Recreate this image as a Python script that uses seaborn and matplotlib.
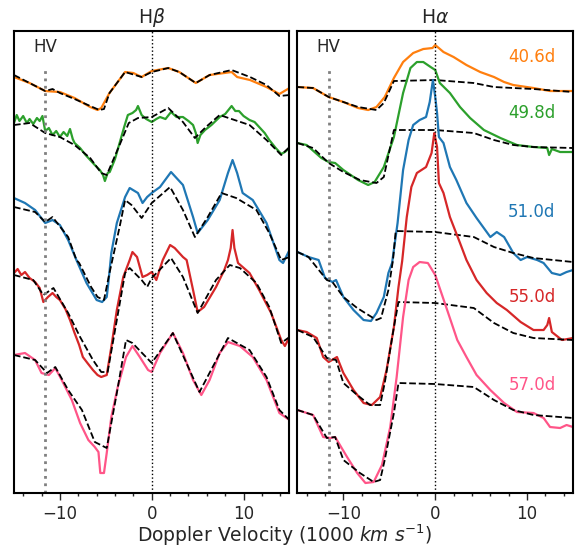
import matplotlib
matplotlib.use("Agg")
import matplotlib.pyplot as plt
import seaborn as sns

# velocities in 1000 km/s, flux in arbitrary (offset) units

epochs = ['40.6d', '49.8d', '51.0d', '55.0d', '57.0d']
colors = ['#ff7f0e', '#2ca02c', '#1f77b4', '#d62728', '#ff5588']
hv_vel = -11.6

# ---------------- H-beta ----------------
hb_v_406 = [-15, -13.3, -11.6, -10, -8.4, -6.7, -5.9, -5.5, -4.6, -2.9, -2.0, -1.1, 0, 1.8, 3.0, 4.8, 6.3, 8.7, 9.3,
            10.7, 12.5, 13.9, 15]
hb_f_406 = [416, 410, 402, 401, 395, 386, 383, 385, 400, 421, 420, 416, 422, 425, 421, 410, 418, 421, 416,
            413, 406, 399, 405]
hb_mv_406 = [-15, -13.3, -11.6, -10.8, -10, -8.4, -6.7, -5.7, -5.2, -4.6, -2.9, -1.1, 0, 1.8, 3.0, 4.8, 6.3, 8.7,
             10.7, 12.5, 13.9, 15]
hb_mf_406 = [418, 410, 402, 404, 400, 394, 387, 383, 384, 400, 421, 416, 421, 425, 421, 410, 418, 423,
             416, 408, 397, 398]

hb_v_498 = [-15, -14.7, -14.4, -14.0, -13.6, -13.3, -12.9, -12.5, -12.2, -11.9, -11.6, -11.2, -10.8, -10.4, -10,
            -9.6, -9.2, -8.9, -8.6, -8.4, -7.8, -7.2, -6.7, -6.2, -5.65, -5.3, -5.1, -4.8, -4.57, -4.0, -3.5, -3.0,
            -2.6, -2.1, -1.7, -1.5, -1.1, -0.6, 0, 0.5, 0.9, 1.5, 2.1, 2.7, 3.4, 4.0, 4.5, 4.8, 5.0, 5.3, 5.8, 6.5,
            7.4, 8.0, 8.7, 9.1, 9.5, 10.0, 10.65, 11.2, 11.7, 12.3, 12.8, 13.5, 14.1, 14.5, 15]
hb_f_498 = [370, 378, 372, 377, 370, 374, 369, 375, 372, 377, 362, 365, 358, 362, 356,
            361, 357, 364, 354, 350, 345, 338, 333, 328, 323, 318, 312, 320, 321, 334, 350, 366,
            378, 380, 383, 387, 378, 374, 371, 374, 376, 374, 381, 376, 376, 372, 368, 360, 350, 358, 363, 368,
            376, 379, 387, 382, 382, 377, 373, 371, 366, 360, 353, 345, 339, 341, 345]
hb_mv_498 = [-15, -13.3, -11.6, -10, -8.4, -6.7, -5.5, -4.9, -3.5, -2.5, -1.5, 0, 1.8, 3.4, 4.7, 5.9, 7.4, 10.65,
             12.5, 14.1, 15]
hb_mf_498 = [368, 370, 360, 356, 348, 335, 320, 318, 348, 370, 375, 376, 385, 371, 355, 366, 378, 368,
             353, 338, 346]

hb_v_510 = [-15, -13.8, -12.7, -11.6, -10.8, -10, -9.1, -8.2, -7.1, -6.0, -5.4, -4.9, -4.7, -4.4, -3.8, -2.9, -2.4,
            -1.5, -1.0, -0.5, 0, 0.9, 2.1, 3.4, 4.5, 5.0, 6.1, 7.4, 8.3, 8.8, 9.3, 9.9, 11.0, 12.5, 13.9, 14.3, 15]
hb_f_510 = [295, 290, 283, 270, 273, 268, 253, 233, 210, 193, 191, 196, 212, 240, 270, 296, 305,
            300, 290, 296, 300, 306, 321, 308, 276, 260, 273, 293, 320, 333, 320, 300, 293, 270, 233, 230, 243]
hb_mv_510 = [-15, -12.7, -11.6, -10.8, -9.1, -8.2, -7.9, -6.6, -5.9, -5.2, -4.6, -3.5, -2.9, -2.2, -1.1, 0, 2.0,
             3.4, 4.7, 6.1, 7.6, 9.2, 11.4, 12.8, 14.1, 15]
hb_mf_510 = [286, 281, 271, 276, 256, 233, 230, 206, 196, 193, 220, 266, 293, 288, 275, 290, 306,
             283, 256, 276, 300, 295, 283, 260, 233, 236]

hb_v_550 = [-15, -14.6, -14.2, -13.8, -13.3, -12.7, -12.2, -11.8, -11.3, -10.8, -10.4, -10, -9.4, -8.9, -8.4, -7.9,
            -7.5, -7.0, -6.4, -5.9, -5.5, -4.9, -4.4, -3.8, -3.1, -2.4, -2.1, -1.6, -1.0, -0.5, 0, 0.5, 1.2, 2.0,
            2.5, 3.4, 3.8, 4.5, 5.0, 5.7, 7.0, 7.9, 8.3, 8.6, 8.8, 9.0, 9.4, 10.65, 11.7, 13.0, 14.1, 14.5, 15]
hb_f_550 = [220, 224, 218, 221, 215, 211, 205, 191, 196, 200, 196, 193, 184, 173, 160, 148,
            136, 130, 123, 118, 116, 118, 146, 183, 216, 233, 241, 236, 216, 218, 221, 213, 233, 248,
            245, 236, 233, 203, 181, 186, 206, 223, 233, 245, 263, 245, 230, 220, 203, 180, 153, 147, 156]
hb_mv_550 = [-15, -12.9, -11.8, -10.7, -9.1, -7.8, -6.4, -5.5, -4.8, -3.8, -2.9, -2.4, -1.1, -0.5, 0, 2.1, 3.4,
             5.0, 7.0, 8.5, 9.6, 11.4, 12.8, 14.1, 15]
hb_mf_550 = [218, 213, 198, 205, 180, 156, 133, 121, 121, 173, 220, 225, 213, 206, 215, 235, 216,
             180, 213, 228, 225, 210, 186, 150, 156]

hb_v_570 = [-15, -13.8, -12.7, -12.0, -11.2, -10.5, -9.8, -8.7, -7.8, -6.9, -6.2, -5.8, -5.6, -5.2, -4.9, -4.4,
            -3.7, -2.8, -2.1, -1.3, -0.4, 0, 0.9, 2.3, 3.4, 4.5, 5.4, 6.3, 7.4, 8.3, 9.6, 11.0, 12.5, 13.9, 15]
hb_f_570 = [138, 140, 133, 120, 118, 125, 113, 93, 70, 53, 46, 41, 20, 20, 40, 76,
            106, 136, 147, 136, 123, 121, 140, 160, 140, 113, 98, 113, 140, 151, 147, 136, 113, 80, 73]
hb_mv_570 = [-15, -12.7, -11.4, -10.5, -9.1, -7.6, -6.2, -4.9, -3.8, -2.8, -2.1, 0, 2.3, 5.2, 8.3, 10.65, 12.5,
             13.9, 15]
hb_mf_570 = [138, 133, 120, 126, 103, 83, 51, 45, 100, 153, 150, 130, 160, 101, 155, 143, 116,
             83, 73]

# ---------------- H-alpha ----------------
ha_v_406 = [-15, -13.3, -11.6, -10, -8.4, -7.3, -6.4, -5.5, -4.5, -3.5, -2.4, -1.3, -0.3, 0, 0.9, 2.0, 3.4, 4.9,
            6.4, 7.5, 8.5, 10.7, 12.5, 13.6, 15]
ha_f_406 = [406, 405, 396, 391, 385, 383, 386, 396, 415, 431, 440, 444, 445, 448, 441, 436, 428, 421,
            416, 411, 408, 405, 402, 402, 402]
ha_mv_406 = [-15, -13.3, -11.6, -8.4, -6.4, -5.6, -4.5, 0, 4.2, 6.4, 8.5, 10.7, 15]
ha_mf_406 = [406, 405, 396, 386, 383, 390, 412, 413, 410, 406, 405, 404, 401]

ha_v_498 = [-15, -14.0, -12.4, -11.6, -10.9, -10, -8.4, -7.3, -6.6, -5.6, -4.5, -3.5, -2.7, -2.0, -1.3, -0.5, 0,
            0.5, 1.6, 2.7, 3.8, 5.3, 7.1, 8.9, 10.7, 12.2, 12.4, 12.7, 13.6, 15]
ha_f_498 = [350, 348, 335, 331, 330, 323, 313, 308, 311, 326, 356, 400, 425, 431, 431, 426, 423,
            410, 400, 386, 375, 363, 355, 348, 346, 345, 338, 344, 341, 341]
ha_mv_498 = [-15, -13.3, -11.6, -10, -8.2, -6.4, -5.6, -4.5, 0, 4.2, 6.4, 8.5, 10.7, 15]
ha_mf_498 = [350, 345, 330, 321, 313, 310, 316, 363, 363, 360, 353, 348, 346, 345]

ha_v_510 = [-15, -13.8, -12.7, -12.0, -11.2, -10.8, -10, -8.9, -7.8, -7.0, -6.4, -5.6, -5.1, -4.7, -4.1, -3.5,
            -2.9, -2.4, -1.7, -1.0, -0.6, -0.25, 0, 0.2, 0.4, 0.9, 1.6, 2.3, 3.4, 4.5, 6.0, 6.7, 7.5, 8.5, 9.3,
            10.0, 11.1, 11.8, 12.7, 13.6, 14.3, 15]
ha_f_510 = [241, 236, 233, 215, 211, 213, 196, 183, 173, 172, 180, 196, 220, 230, 270, 323,
            353, 368, 373, 376, 391, 413, 396, 380, 356, 350, 326, 313, 290, 275, 256, 261, 256, 240, 233,
            236, 233, 230, 220, 218, 221, 223]
ha_mv_510 = [-15, -13.8, -12.5, -11.8, -11.2, -10, -8.5, -6.4, -5.9, -5.1, -4.6, -4.3, 0, 4.2, 6.4, 8.5, 10.7, 15]
ha_mf_510 = [241, 236, 221, 213, 211, 196, 185, 173, 175, 203, 233, 262, 261, 256, 246, 240, 235, 231]

ha_v_550 = [-15, -14.0, -12.9, -12.2, -11.6, -10.7, -10, -8.9, -7.8, -6.9, -6.0, -5.3, -4.5, -4.0, -3.6, -3.1,
            -2.6, -2.0, -1.5, -1.0, -0.4, -0.1, 0, 0.2, 0.4, 0.9, 1.6, 2.7, 3.4, 4.5, 5.6, 6.7, 7.8, 9.3, 10.7,
            11.8, 12.2, 12.4, 12.7, 13.8, 15]
ha_f_550 = [163, 161, 155, 136, 131, 136, 120, 103, 90, 88, 96, 123, 166, 206, 232, 276,
            306, 320, 323, 326, 340, 360, 355, 346, 310, 300, 276, 250, 233, 213, 200, 190, 183, 171, 163,
            163, 168, 175, 161, 153, 155]
ha_mv_550 = [-15, -13.3, -11.8, -10.8, -10, -8.5, -7.1, -6.0, -5.5, -4.5, -4.0, 0, 4.2, 6.4, 8.5, 10.7, 15]
ha_mf_550 = [163, 156, 135, 133, 110, 98, 88, 88, 110, 166, 191, 190, 185, 170, 160, 155, 153]

ha_v_570 = [-15, -13.3, -12.2, -11.4, -10.9, -9.6, -8.5, -7.6, -6.7, -5.8, -4.9, -4.2, -3.5, -2.9, -2.4, -1.7,
            -0.8, 0, 1.3, 2.4, 3.4, 4.5, 6.0, 7.5, 8.9, 10.7, 11.8, 12.5, 13.6, 14.3, 15]
ha_f_570 = [83, 78, 56, 55, 56, 36, 20, 10, 11, 28, 66, 116, 176, 213, 226, 231,
            230, 218, 183, 153, 136, 118, 103, 90, 81, 80, 75, 66, 65, 68, 66]
ha_mv_570 = [-15, -13.3, -11.8, -10.9, -10, -8.2, -6.7, -6.0, -5.5, -4.5, -4.0, 0, 4.2, 6.4, 8.5, 10.7, 15]
ha_mf_570 = [83, 78, 55, 56, 33, 20, 11, 13, 33, 80, 110, 109, 106, 93, 83, 78, 75]

# label positions (flux level of each epoch label in the H-alpha panel)
label_flux = [436, 380, 281, 196, 108]

hb_obs = [(hb_v_406, hb_f_406), (hb_v_498, hb_f_498), (hb_v_510, hb_f_510), (hb_v_550, hb_f_550), (hb_v_570, hb_f_570)]
hb_mod = [(hb_mv_406, hb_mf_406), (hb_mv_498, hb_mf_498), (hb_mv_510, hb_mf_510), (hb_mv_550, hb_mf_550),
          (hb_mv_570, hb_mf_570)]
ha_obs = [(ha_v_406, ha_f_406), (ha_v_498, ha_f_498), (ha_v_510, ha_f_510), (ha_v_550, ha_f_550), (ha_v_570, ha_f_570)]
ha_mod = [(ha_mv_406, ha_mf_406), (ha_mv_498, ha_mf_498), (ha_mv_510, ha_mf_510), (ha_mv_550, ha_mf_550),
          (ha_mv_570, ha_mf_570)]

sns.set_style("white")
plt.rcParams['font.family'] = ['DejaVu Sans']

fig, axes = plt.subplots(1, 2, figsize=(5.75, 5.47), dpi=100, sharey=True)
fig.subplots_adjust(left=0.0243, right=0.9965, bottom=0.0987, top=0.9433, wspace=0.029)


def draw_panel(ax, obs, mod, title):
    for (v, f), (mv, mf), c in zip(obs, mod, colors):
        sns.lineplot(x=v, y=f, ax=ax, color=c, lw=1.6, sort=False, estimator=None)
        sns.lineplot(x=mv, y=mf, ax=ax, color='black', lw=1.3, linestyle='--', dashes=(4, 2.5),
                     sort=False, estimator=None)
    ax.axvline(0, color='black', lw=1.0, linestyle=':')
    ax.vlines(hv_vel, 0, 426, color='grey', lw=2.0, linestyles=':')
    ax.text(hv_vel, 446, 'HV', ha='center', va='center', fontsize=12)
    ax.set_xlim(-15, 15)
    ax.set_ylim(0, 462)
    ax.set_yticks([])
    ax.set_xticks([-10, 0, 10])
    ax.set_xticks(range(-14, 15, 2), minor=True)
    ax.tick_params(axis='x', which='major', direction='out', length=5, width=1, labelsize=12, bottom=True)
    ax.tick_params(axis='x', which='minor', direction='out', length=2.5, width=1, bottom=True)
    ax.set_title(title, fontsize=13.5, pad=6)
    ax.set_xlabel('')
    ax.set_ylabel('')
    for s in ax.spines.values():
        s.set_linewidth(1.5)
        s.set_color('black')


draw_panel(axes[0], hb_obs, hb_mod, r'H$\beta$')
draw_panel(axes[1], ha_obs, ha_mod, r'H$\alpha$')

for lab, y, c in zip(epochs, label_flux, colors):
    axes[1].text(13.1, y, lab, color=c, ha='right', va='center', fontsize=12)

fig.text(0.495, 0.022, r'Doppler Velocity (1000 $km$ $s^{-1}$)', ha='center', va='center', fontsize=13.5)

fig.savefig('out.png', dpi=100)
